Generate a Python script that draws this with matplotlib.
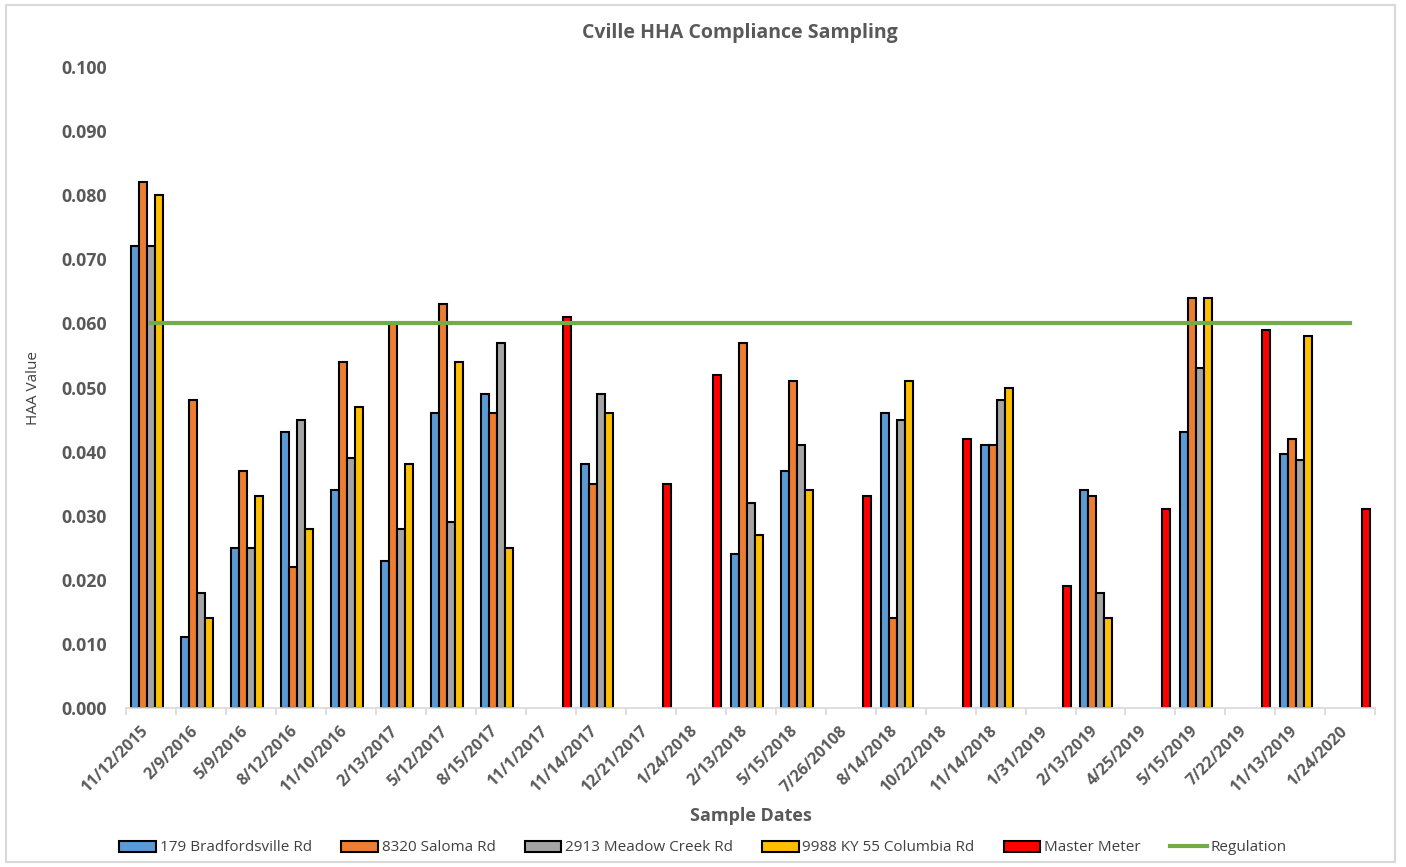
import numpy as np
import matplotlib.pyplot as plt
from matplotlib.patches import Rectangle

nan = np.nan

# Sample dates (categories)
dates = ["11/12/2015", "2/9/2016", "5/9/2016", "8/12/2016", "11/10/2016",
         "2/13/2017", "5/12/2017", "8/15/2017", "11/1/2017", "11/14/2017",
         "12/21/2017", "1/24/2018", "2/13/2018", "5/15/2018", "7/26/20108",
         "8/14/2018", "10/22/2018", "11/14/2018", "1/31/2019", "2/13/2019",
         "4/25/2019", "5/15/2019", "7/22/2019", "11/13/2019", "1/24/2020"]

bradfordsville = [0.072, 0.011, 0.025, 0.043, 0.034, 0.023, 0.046, 0.049, nan, 0.038,
                  nan, nan, 0.024, 0.037, nan, 0.046, nan, 0.041, nan, 0.034,
                  nan, 0.043, nan, 0.0397, nan]
saloma = [0.082, 0.048, 0.037, 0.022, 0.054, 0.060, 0.063, 0.046, nan, 0.035,
          nan, nan, 0.057, 0.051, nan, 0.014, nan, 0.041, nan, 0.033,
          nan, 0.064, nan, 0.042, nan]
meadow_creek = [0.072, 0.018, 0.025, 0.045, 0.039, 0.028, 0.029, 0.057, nan, 0.049,
                nan, nan, 0.032, 0.041, nan, 0.045, nan, 0.048, nan, 0.018,
                nan, 0.053, nan, 0.0387, nan]
columbia = [0.080, 0.014, 0.033, 0.028, 0.047, 0.038, 0.054, 0.025, nan, 0.046,
            nan, nan, 0.027, 0.034, nan, 0.051, nan, 0.050, nan, 0.014,
            nan, 0.064, nan, 0.058, nan]
master_meter = [nan, nan, nan, nan, nan, nan, nan, nan, 0.061, nan,
                0.035, 0.052, nan, nan, 0.033, nan, 0.042, nan, 0.019, nan,
                0.031, nan, 0.059, nan, 0.031]
regulation = 0.060

series = [("179 Bradfordsville Rd", bradfordsville, "#5B9BD5"),
          ("8320 Saloma Rd", saloma, "#ED7D31"),
          ("2913 Meadow Creek Rd", meadow_creek, "#A5A5A5"),
          ("9988 KY 55 Columbia Rd", columbia, "#FFC000"),
          ("Master Meter", master_meter, "#FF0000")]

text_col = "#595959"
fig = plt.figure(figsize=(14.06, 8.67), dpi=100)
ax = fig.add_axes([0.0896, 0.1834, 0.8886, 0.7393])

x = np.arange(len(dates))
w = 0.16
handles = []
for i, (name, vals, col) in enumerate(series):
    b = ax.bar(x + (i - 2) * w, vals, width=w, color=col, edgecolor="black",
               linewidth=1.5, label=name, zorder=2)
    handles.append(b)

reg_line, = ax.plot(x, [regulation] * len(dates), color="#70AD47", linewidth=3,
                    label="Regulation", zorder=3)
handles.append(reg_line)

ax.set_xlim(-0.5, len(dates) - 0.5)
ax.set_ylim(0, 0.1)
yt = np.arange(0, 0.101, 0.01)
ax.set_yticks(yt)
ax.set_yticklabels([f"{v:.3f}" for v in yt])
ax.set_xticks(x)
ax.set_xticklabels(dates, rotation=45, ha="right")
ax.set_xticks(np.arange(-0.5, len(dates)), minor=True)
ax.tick_params(axis="x", which="major", length=0, pad=11)
ax.tick_params(axis="x", which="minor", length=5, color="#D9D9D9", width=1.2)
ax.tick_params(axis="y", length=0, pad=14)
for lab in ax.get_xticklabels():
    lab.set_fontfamily("Open Sans")
    lab.set_fontweight("bold")
    lab.set_fontsize(11.5)
    lab.set_color(text_col)
for lab in ax.get_yticklabels():
    lab.set_fontfamily("Open Sans")
    lab.set_fontweight("bold")
    lab.set_fontsize(12.8)
    lab.set_color(text_col)

for s in ["top", "right", "left"]:
    ax.spines[s].set_visible(False)
ax.spines["bottom"].set_color("#D9D9D9")
ax.spines["bottom"].set_linewidth(1.2)

fig.text(740 / 1406, 1 - 33 / 867, "Cville HHA Compliance Sampling", fontsize=14,
         fontweight="bold", color=text_col, family="Open Sans",
         ha="center", va="center")
ax.set_ylabel("HAA Value", fontsize=11, color="#404040",
              family="Open Sans", labelpad=14)
ax.set_xlabel("Sample Dates", fontsize=13, fontweight="bold", color=text_col,
              family="Open Sans", labelpad=8)

leg = fig.legend(handles=handles, loc="center", bbox_to_anchor=(0.5, 0.022), ncol=6,
                 frameon=False, handlelength=2.4, handleheight=0.75,
                 columnspacing=1.9, handletextpad=0.25,
                 prop={"family": "Open Sans", "size": 11})
for t in leg.get_texts():
    t.set_color("#404040")

fig.patches.append(Rectangle((0.004, 0.006), 0.988, 0.988, transform=fig.transFigure,
                             fill=False, edgecolor="#D9D9D9", linewidth=1.5))

fig.savefig("out.png", dpi=100)
